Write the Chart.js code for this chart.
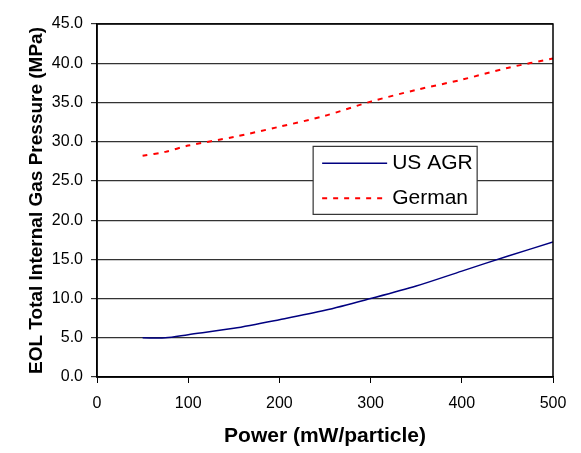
<!DOCTYPE html>
<html>
<head>
<meta charset="utf-8">
<script src="https://cdn.jsdelivr.net/npm/chart.js@4/dist/chart.umd.min.js"></script>
<style>
  body { margin: 0; background: #fff; }
  canvas { display: block; }
</style>
</head>
<body>
<canvas id="grafico" width="581" height="453"></canvas>
<script>
// valores
const potencias = [50, 75, 100, 150, 200, 250, 300, 350, 400, 450, 500];
const usAgr = [5.0, 5.0, 5.4, 6.2, 7.3, 8.5, 10.0, 11.6, 13.5, 15.4, 17.2];
const german = [28.2, 28.7, 29.5, 30.6, 31.9, 33.3, 35.1, 36.6, 37.9, 39.4, 40.6];
const nomesSeries = ['US AGR', 'German'];
const ticksY = [0, 5, 10, 15, 20, 25, 30, 35, 40, 45];
const ticksX = [0, 100, 200, 300, 400, 500];

const fonte = '"Liberation Sans", Arial, sans-serif';
const pontos = (ys) => potencias.map((x, i) => ({ x, y: ys[i] }));

// moldura em volta da área do gráfico
const moldura = {
    id: 'moldura',
    afterDatasetsDraw(chart) {
        const { ctx, chartArea: a } = chart;
        ctx.save();
        ctx.strokeStyle = '#000';
        ctx.lineWidth = 1.5;
        ctx.strokeRect(a.left, a.top, a.right - a.left, a.bottom - a.top);
        ctx.restore();
    }
};

// legenda dentro da área, como no original
const legendaInterna = {
    id: 'legendaInterna',
    afterDraw(chart) {
        const { ctx, scales } = chart;
        const x0 = scales.x.getPixelForValue(237), y0 = scales.y.getPixelForValue(29.4);
        const w = 164, h = 68;
        ctx.save();
        ctx.fillStyle = '#fff';
        ctx.fillRect(x0, y0, w, h);
        ctx.strokeStyle = '#333';
        ctx.lineWidth = 1.2;
        ctx.strokeRect(x0, y0, w, h);
        ctx.font = '21px ' + fonte;
        ctx.textBaseline = 'middle';
        chart.data.datasets.forEach((ds, i) => {
            const yy = y0 + 17 + i * 35;
            ctx.strokeStyle = ds.borderColor;
            ctx.lineWidth = ds.borderWidth;
            ctx.setLineDash(ds.borderDash || []);
            ctx.beginPath();
            ctx.moveTo(x0 + 9, yy);
            ctx.lineTo(x0 + 74, yy);
            ctx.stroke();
            ctx.setLineDash([]);
            ctx.fillStyle = '#000';
            ctx.fillText(ds.label, x0 + 79, yy);
        });
        ctx.restore();
    }
};

new Chart('grafico', {
    type: 'scatter',
    data: {
        datasets: [
            { label: nomesSeries[0], data: pontos(usAgr), showLine: true, borderColor: '#000080', borderWidth: 1.5, pointRadius: 0, tension: 0.3 },
            { label: nomesSeries[1], data: pontos(german), showLine: true, borderColor: '#ff0000', borderWidth: 2, borderDash: [5, 6], pointRadius: 0, tension: 0.3 }
        ]
    },
    options: {
        responsive: false,
        animation: false,
        layout: { padding: { top: 24, right: 28, left: 0, bottom: 0 } },
        plugins: { legend: { display: false }, tooltip: { enabled: false } },
        scales: {
            x: {
                type: 'linear', min: 0, max: 500,
                afterBuildTicks: (s) => { s.ticks = ticksX.map(v => ({ value: v })); },
                afterFit: (s) => { s.height = 76; },
                ticks: { color: '#000', font: { family: fonte, size: 16 }, padding: 11, maxRotation: 0 },
                grid: { drawOnChartArea: false, drawTicks: true, tickLength: 6, color: '#000' },
                border: { color: '#000', width: 1.5 },
                title: { display: true, text: 'Power (mW/particle)', color: '#000', font: { family: fonte, size: 21, weight: 'bold' }, padding: { top: 0, bottom: 4 } }
            },
            y: {
                min: 0, max: 45,
                afterBuildTicks: (s) => { s.ticks = ticksY.map(v => ({ value: v })); },
                afterFit: (s) => { s.width = 97; },
                ticks: { color: '#000', font: { family: fonte, size: 16 }, padding: 8, callback: (v) => v.toFixed(1) },
                grid: { color: '#333', lineWidth: 1.2, tickLength: 6 },
                border: { color: '#000', width: 1.5 },
                title: { display: true, text: 'EOL Total Internal Gas Pressure (MPa)', color: '#000', font: { family: fonte, size: 19, weight: 'bold' }, padding: { top: 25, bottom: 0 } }
            }
        }
    },
    plugins: [moldura, legendaInterna]
});
</script>
</body>
</html>
